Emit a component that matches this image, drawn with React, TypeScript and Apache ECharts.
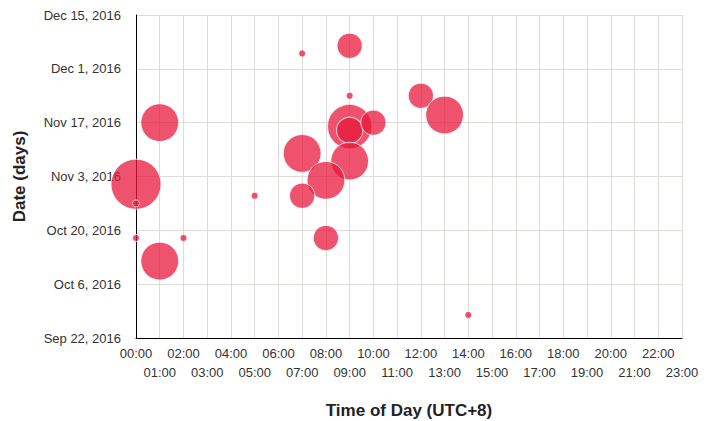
import React, { useEffect, useRef } from "react";
import * as echarts from "echarts";

// Hour of day (UTC+8) for each bubble
const hours = [0, 0, 1, 0, 2, 1, 5, 7, 9, 9, 9, 9, 10, 12, 13, 7, 9, 8, 7, 8, 14];
// Date for each bubble
const dates = [
  "2016-11-01", "2016-10-27", "2016-11-17", "2016-10-18", "2016-10-18",
  "2016-10-12", "2016-10-29", "2016-12-05", "2016-12-07", "2016-11-24",
  "2016-11-16", "2016-11-15", "2016-11-17", "2016-11-24", "2016-11-19",
  "2016-11-09", "2016-11-07", "2016-11-02", "2016-10-29", "2016-10-18",
  "2016-09-28",
];
// Bubble size values (counts)
const counts = [51, 1, 29, 1, 1, 29, 1, 1, 13, 1, 40, 14, 13, 13, 29, 29, 29, 29, 13, 13, 1];

const startDate = "2016-09-22";
const endDate = "2016-12-15";
const monthNames = ["Jan", "Feb", "Mar", "Apr", "May", "Jun", "Jul", "Aug", "Sep", "Oct", "Nov", "Dec"];

const DAY = 86400000;
const toMs = (s: string) => {
  const [y, m, d] = s.split("-").map(Number);
  return Date.UTC(y, m - 1, d);
};
const base = toMs(startDate);
const toDays = (s: string) => Math.round((toMs(s) - base) / DAY);
const dayLabel = (v: number) => {
  const d = new Date(base + v * DAY);
  return `${monthNames[d.getUTCMonth()]} ${d.getUTCDate()}, ${d.getUTCFullYear()}`;
};
const pad = (n: number) => (n < 10 ? "0" + n : "" + n);

export default function App() {
  const ref = useRef<HTMLDivElement>(null);
  useEffect(() => {
    if (!ref.current) return;
    const chart = echarts.init(ref.current, undefined, { renderer: "svg" });
    const font = "'Liberation Sans', Arial, Helvetica, sans-serif";
    const data = hours.map((h, i) => [h, toDays(dates[i]), counts[i]]);
    const labelBase = {
      fontFamily: font,
      fontSize: 13,
      color: "#333",
      showMinLabel: true,
      showMaxLabel: true,
      hideOverlap: false,
    };
    chart.setOption({
      animation: false,
      textStyle: { fontFamily: font },
      grid: {
        left: 136,
        right: 30,
        top: 15,
        bottom: 83,
        containLabel: false,
        outerBoundsMode: "none",
      },
      xAxis: [
        {
          type: "value",
          position: "bottom",
          min: 0,
          max: 23,
          interval: 1,
          name: "Time of Day (UTC+8)",
          nameLocation: "middle",
          nameGap: 64,
          nameTextStyle: { fontFamily: font, fontSize: 17, fontWeight: "bold", color: "#222" },
          axisLine: { show: true, lineStyle: { color: "#000", width: 1 } },
          axisTick: { show: false },
          axisLabel: {
            ...labelBase,
            margin: 9,
            formatter: (v: number) => (v % 2 === 0 ? `${pad(v)}:00` : ""),
          },
          splitLine: { show: true, lineStyle: { color: "#e0dbd6", width: 1 } },
        },
        {
          type: "value",
          position: "bottom",
          offset: 0,
          min: 0,
          max: 23,
          interval: 1,
          axisLine: { show: false },
          axisTick: { show: false },
          splitLine: { show: false },
          axisLabel: {
            ...labelBase,
            margin: 28,
            formatter: (v: number) => (v % 2 === 1 ? `${pad(v)}:00` : ""),
          },
        },
      ],
      yAxis: {
        type: "value",
        min: 0,
        max: toDays(endDate),
        interval: 14,
        name: "Date (days)",
        nameLocation: "middle",
        nameRotate: 90,
        nameGap: 108,
        nameTextStyle: { fontFamily: font, fontSize: 17, fontWeight: "bold", color: "#222" },
        axisLine: { show: true, lineStyle: { color: "#000", width: 1 } },
        axisTick: { show: false },
        axisLabel: {
          ...labelBase,
          margin: 15,
          formatter: (v: number) => dayLabel(v),
        },
        splitLine: { show: true, lineStyle: { color: "#e0dbd6", width: 1 } },
      },
      series: [
        {
          type: "scatter",
          xAxisIndex: 0,
          data,
          symbolSize: (d: number[]) => 7 * Math.sqrt(d[2]),
          itemStyle: {
            color: "#e8183c",
            opacity: 0.75,
            borderColor: "#fff",
            borderWidth: 1,
          },
        },
      ],
    });
    return () => chart.dispose();
  }, []);
  return <div ref={ref} style={{ width: 712, height: 421, marginLeft: -8, marginTop: -8 }} />;
}
